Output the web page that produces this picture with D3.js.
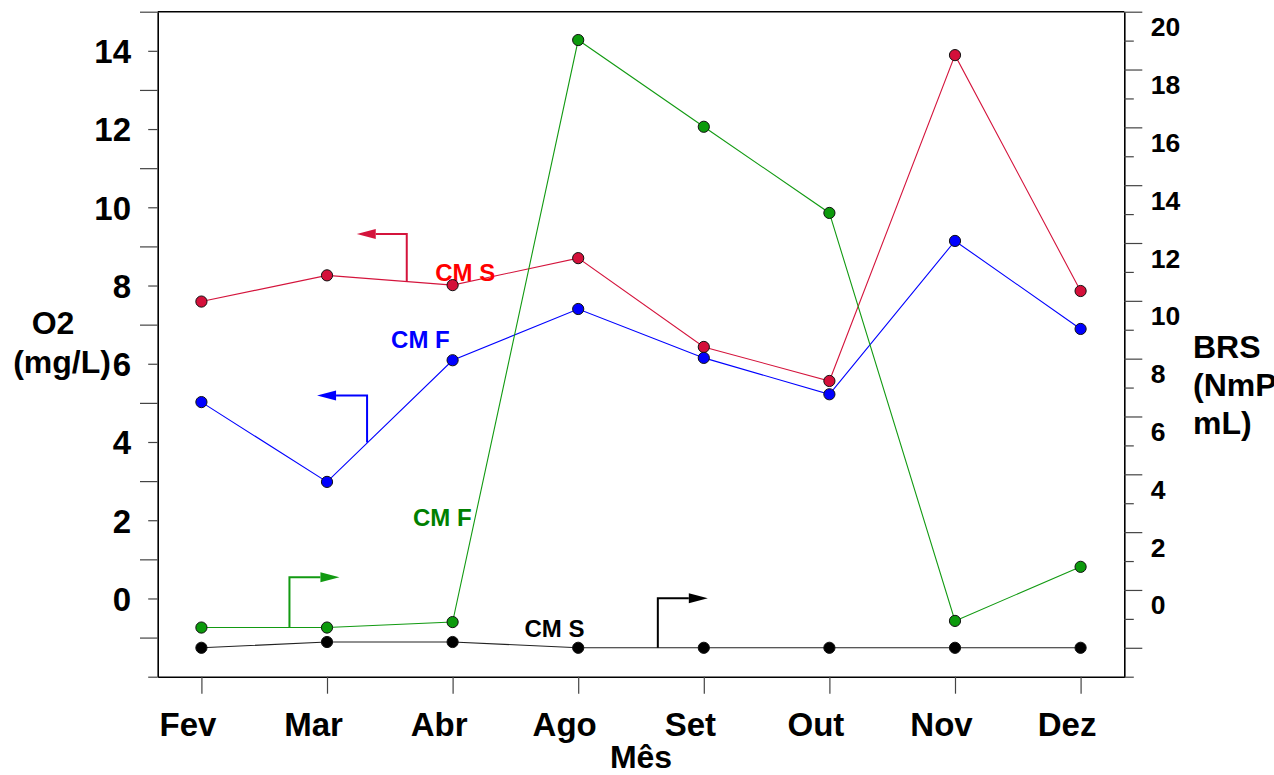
<!DOCTYPE html>
<html>
<head>
<meta charset="utf-8">
<script src="https://cdn.jsdelivr.net/npm/d3@7"></script>
<style>
  html, body { margin: 0; padding: 0; background: #fff; }
  svg { display: block; font-family: "Liberation Sans", Arial, sans-serif; font-weight: bold; }
</style>
</head>
<body>
<svg id="chart" width="1274" height="775"></svg>
<script>
// ---------- data ----------
const months = ["Fev", "Mar", "Abr", "Ago", "Set", "Out", "Nov", "Dez"];
// left axis: O2 (mg/L)
const o2CMS = [7.59, 8.26, 8.01, 8.70, 6.43, 5.56, 13.89, 7.86];
const o2CMF = [5.02, 2.98, 6.09, 7.40, 6.15, 5.22, 9.14, 6.89];
// right axis: BRS
const brsCMF = [-1.30, -1.30, -1.11, 19.02, 16.02, 13.04, -1.07, 0.80];
const brsCMS = [-2.00, -1.80, -1.80, -2.00, -2.00, -2.00, -2.00, -2.00];
const leftTickLabels = [0, 2, 4, 6, 8, 10, 12, 14];
const rightTickLabels = [0, 2, 4, 6, 8, 10, 12, 14, 16, 18, 20];

// ---------- layout ----------
const svg = d3.select("#chart");
const L = 157.7, R = 1124.3, T = 11.7, B = 676.7;
const font = '"Liberation Sans", Arial, sans-serif';

const x = d3.scalePoint().domain(months).range([L, R]).padding(0.348);
const yL = d3.scaleLinear().domain([-2, 15]).range([B, T]);
const yR = d3.scaleLinear().domain([-3, 20]).range([B, T]);
const xAt = (m, f) => x(m) + f * x.step();

svg.append("rect").attr("width", 1274).attr("height", 775).attr("fill", "#fff");

// ---------- axes ----------
const axL = svg.append("g").attr("transform", `translate(${L},0)`)
  .call(d3.axisLeft(yL).tickValues(d3.range(-2, 16)).tickSizeOuter(0)
    .tickFormat(d => leftTickLabels.includes(d) ? d : ""));
axL.selectAll(".tick line").attr("x2", d => (Math.abs(d) % 2 === 1) ? -17.7 : -9.5)
  .attr("stroke", "#444").attr("stroke-width", 1.2);
axL.selectAll(".tick text").attr("x", -26.7).attr("dy", "0.36em")
  .attr("font-size", 33).attr("font-family", font).attr("font-weight", "bold").attr("fill", "#000");
axL.select(".domain").attr("stroke", "#000").attr("stroke-width", 1.6);

const axR = svg.append("g").attr("transform", `translate(${R},0)`)
  .call(d3.axisRight(yR).tickValues(d3.range(-3, 21)).tickSizeOuter(0)
    .tickFormat(d => rightTickLabels.includes(d) ? d : ""));
axR.selectAll(".tick line").attr("x2", d => (Math.abs(d) % 2 === 0) ? 18 : 9.5)
  .attr("stroke", "#444").attr("stroke-width", 1.2);
axR.selectAll(".tick text").attr("x", 26.4).attr("y", 14.5).attr("dy", "0.36em")
  .attr("font-size", 26.5).attr("font-family", font).attr("font-weight", "bold").attr("fill", "#000");
axR.select(".domain").attr("stroke", "#000").attr("stroke-width", 1.6);

const axB = svg.append("g").attr("transform", `translate(0,${B})`)
  .call(d3.axisBottom(x).tickSize(17).tickSizeOuter(0));
axB.selectAll(".tick line").attr("stroke", "#444").attr("stroke-width", 1.2);
axB.selectAll(".tick text").attr("x", -14).attr("y", 59.5).attr("dy", 0)
  .attr("font-size", 33).attr("font-family", font).attr("font-weight", "bold").attr("fill", "#000");
axB.select(".domain").attr("stroke", "#000").attr("stroke-width", 1.6);

// top frame
svg.append("line").attr("x1", L).attr("x2", R).attr("y1", T).attr("y2", T)
  .attr("stroke", "#000").attr("stroke-width", 1.6);

// ---------- axis titles ----------
svg.append("text").attr("x", 641).attr("y", 768).attr("text-anchor", "middle")
  .attr("font-size", 32).text("Mês");
svg.append("text").attr("x", 53).attr("y", 334).attr("text-anchor", "middle")
  .attr("font-size", 32).text("O2");
svg.append("text").attr("x", 62).attr("y", 373).attr("text-anchor", "middle")
  .attr("font-size", 32).text("(mg/L)");
const rt = svg.append("text").attr("x", 1193).attr("font-size", 32);
rt.append("tspan").attr("x", 1193).attr("y", 358).text("BRS");
rt.append("tspan").attr("x", 1193).attr("y", 396).text("(NmP/");
rt.append("tspan").attr("x", 1193).attr("y", 434).text("mL)");

// ---------- series ----------
const series = [
  { name: "CM S", vals: o2CMS, y: yL, line: "#d4143c", fill: "#d4103a" },
  { name: "CM F", vals: o2CMF, y: yL, line: "#0000ff", fill: "#0000ff" },
  { name: "CM F", vals: brsCMF, y: yR, line: "#129a12", fill: "#0c9a0c" },
  { name: "CM S", vals: brsCMS, y: yR, line: "#222", fill: "#000" }
];

series.forEach(s => {
  const line = d3.line().x((d, i) => x(months[i])).y(d => s.y(d));
  svg.append("path").datum(s.vals).attr("d", line)
    .attr("fill", "none").attr("stroke", s.line).attr("stroke-width", 1.1);
});

// ---------- annotations (data coordinates) ----------
const arrowNotes = [
  { axis: yL, color: "#d4143c", month: "Mar", f: 0.635, low: 8.11, high: 9.32, dir: -1 },
  { axis: yL, color: "#0000ff", month: "Mar", f: 0.319, low: 3.99, high: 5.19, dir: -1 },
  { axis: yR, color: "#129a12", month: "Fev", f: 0.701, low: -1.30, high: 0.44, dir: 1 },
  { axis: yR, color: "#000000", month: "Ago", f: 0.634, low: -2.00, high: -0.29, dir: 1 }
];
arrowNotes.forEach(a => {
  const xv = xAt(a.month, a.f), yb = a.axis(a.low), yt = a.axis(a.high);
  const tip = xv + a.dir * 50, base = tip - a.dir * 19;
  svg.append("path").attr("d", `M${xv},${yb}V${yt}H${base}`)
    .attr("fill", "none").attr("stroke", a.color).attr("stroke-width", 2);
  svg.append("path").attr("d", `M${base},${yt - 5}L${tip},${yt}L${base},${yt + 5}Z`)
    .attr("fill", a.color);
});

const textNotes = [
  { text: "CM S", axis: yL, month: "Mar", f: 0.861, v: 8.12, color: "#ff0000" },
  { text: "CM F", axis: yL, month: "Mar", f: 0.51, v: 6.41, color: "#0000ff" },
  { text: "CM F", axis: yR, month: "Mar", f: 0.684, v: 2.20, color: "#008000" },
  { text: "CM S", axis: yR, month: "Abr", f: 0.572, v: -1.64, color: "#000000" }
];
textNotes.forEach(t => {
  svg.append("text").attr("x", xAt(t.month, t.f)).attr("y", t.axis(t.v))
    .attr("font-size", 24).attr("fill", t.color).text(t.text);
});

// ---------- markers ----------
series.forEach(s => {
  svg.append("g").selectAll("circle").data(s.vals).join("circle")
    .attr("cx", (d, i) => x(months[i])).attr("cy", d => s.y(d)).attr("r", 5.6)
    .attr("fill", s.fill).attr("stroke", "#111").attr("stroke-width", 1);
});
</script>
</body>
</html>
